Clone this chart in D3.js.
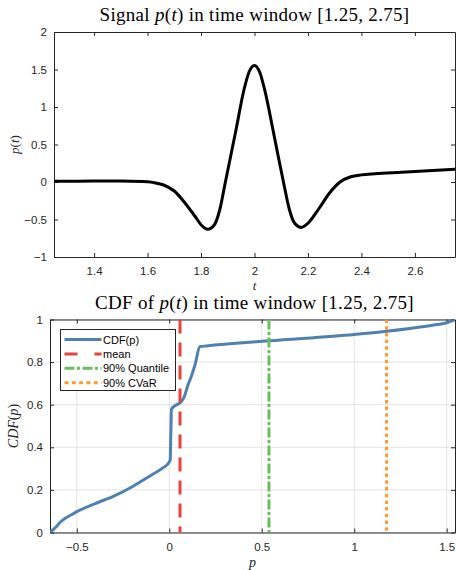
<!DOCTYPE html>
<html>
<head>
<meta charset="utf-8">
<script src="https://cdn.jsdelivr.net/npm/d3@7"></script>
<style>
  body { margin: 0; background: #fff; }
  svg { display: block; }
</style>
</head>
<body>
<div id="chart"></div>
<script>
const width = 456, height = 570;

// signal p(t)
const sigT = [1.25, 1.40, 1.50, 1.58, 1.62, 1.66, 1.70, 1.74, 1.78, 1.80, 1.825, 1.85, 1.87, 1.89, 1.91, 1.93, 1.96, 1.98, 2.00,
              2.02, 2.04, 2.07, 2.09, 2.11, 2.13, 2.15, 2.175, 2.20, 2.24, 2.28, 2.32, 2.36, 2.40, 2.45, 2.55, 2.65, 2.75];
const sigP = [0.01, 0.012, 0.012, 0.008, -0.005, -0.04, -0.12, -0.28, -0.47, -0.57, -0.63, -0.57, -0.37, -0.02, 0.33, 0.68, 1.22, 1.47, 1.555,
              1.46, 1.20, 0.68, 0.32, -0.03, -0.36, -0.55, -0.605, -0.55, -0.36, -0.15, 0.0, 0.07, 0.095, 0.11, 0.13, 0.15, 0.17];

const cdfP = [-0.645, -0.63, -0.61, -0.59, -0.57, -0.53, -0.5, -0.4, -0.3, -0.2, -0.1, -0.04, -0.01, 0.005, 0.008, 0.012,
              0.03, 0.06, 0.08, 0.10, 0.12, 0.14, 0.165, 0.2, 0.54, 1.0, 1.175, 1.3, 1.43, 1.5, 1.545];
const cdfF = [0, 0.012, 0.028, 0.048, 0.062, 0.083, 0.098, 0.136, 0.171, 0.215, 0.268, 0.300, 0.320, 0.340, 0.45, 0.58,
              0.595, 0.61, 0.635, 0.69, 0.735, 0.79, 0.872, 0.876, 0.900, 0.930, 0.945, 0.958, 0.974, 0.985, 1.0];

// reference lines
const refNames = ["mean", "90% Quantile", "90% CVaR"];
const refValues = [0.058, 0.539, 1.175];

const xTicksTop = [1.4, 1.6, 1.8, 2, 2.2, 2.4, 2.6];
const yTicksTop = [-1, -0.5, 0, 0.5, 1, 1.5, 2];
const xTicksBot = [-0.5, 0, 0.5, 1, 1.5];
const yTicksBot = [0, 0.2, 0.4, 0.6, 0.8, 1];

const axisCol = "#262626";
const blue = "#4f81b0", red = "#e8413f", green = "#6abf5c", orange = "#ff9a33";
const refColors = [red, green, orange];
const refDash = ["14,9", "10,2.5,3,2.5", "3.5,3.2"];
const legDash = ["none", "13,17", "10,2.5,3,2.5", "4,3.3"];

const sansFont = "'Liberation Sans', Arial, Helvetica, sans-serif";
const serifFont = "'Liberation Serif', 'Times New Roman', serif";

const svg = d3.select("#chart").append("svg")
  .attr("width", width).attr("height", height)
  .attr("viewBox", [0, 0, width, height]);

const defs = svg.append("defs");

function panel(box, xDom, yDom, xTicks, yTicks, grid, id) {
  const x = d3.scaleLinear().domain(xDom).range([box.left, box.right]);
  const y = d3.scaleLinear().domain(yDom).range([box.bottom, box.top]);

  defs.append("clipPath").attr("id", id)
    .append("rect")
    .attr("x", box.left).attr("y", box.top)
    .attr("width", box.right - box.left).attr("height", box.bottom - box.top);

  if (grid) {
    svg.append("g")
      .selectAll("line").data(xTicks).join("line")
      .attr("x1", d => x(d)).attr("x2", d => x(d))
      .attr("y1", box.top).attr("y2", box.bottom)
      .attr("stroke", "#e3e3e3").attr("stroke-width", 1);
    svg.append("g")
      .selectAll("line").data(yTicks).join("line")
      .attr("x1", box.left).attr("x2", box.right)
      .attr("y1", d => y(d)).attr("y2", d => y(d))
      .attr("stroke", "#e3e3e3").attr("stroke-width", 1);
  }

  // bottom / left axes with inward ticks
  const gx = svg.append("g")
    .attr("transform", `translate(0,${box.bottom})`)
    .call(d3.axisBottom(x).tickValues(xTicks).tickSizeInner(-4).tickSizeOuter(0).tickPadding(10).tickFormat(d3.format("")));
  const gy = svg.append("g")
    .attr("transform", `translate(${box.left},0)`)
    .call(d3.axisLeft(y).tickValues(yTicks).tickSizeInner(-4).tickSizeOuter(0).tickPadding(7).tickFormat(d3.format("")));
  // top / right (box)
  const gt = svg.append("g")
    .attr("transform", `translate(0,${box.top})`)
    .call(d3.axisTop(x).tickValues(xTicks).tickSizeInner(-4).tickSizeOuter(0).tickFormat(""));
  const gr = svg.append("g")
    .attr("transform", `translate(${box.right},0)`)
    .call(d3.axisRight(y).tickValues(yTicks).tickSizeInner(-4).tickSizeOuter(0).tickFormat(""));

  [gx, gy, gt, gr].forEach(g => {
    g.selectAll("path, line").attr("stroke", axisCol).attr("stroke-width", 1);
    g.selectAll("text").attr("fill", axisCol).style("font-family", sansFont).style("font-size", "11.5px");
  });
  return { x, y };
}

// ---- upper panel: the signal
const boxTop = { left: 54, right: 455, top: 32, bottom: 257 };
const s1 = panel(boxTop, [1.25, 2.75], [-1, 2], xTicksTop, yTicksTop, false, "clipTop");

const sigData = sigT.map((t, i) => ({ t, p: sigP[i] }));
svg.append("path")
  .datum(sigData)
  .attr("clip-path", "url(#clipTop)")
  .attr("fill", "none")
  .attr("stroke", "#000")
  .attr("stroke-width", 3)
  .attr("stroke-linejoin", "round")
  .attr("d", d3.line().x(d => s1.x(d.t)).y(d => s1.y(d.p)).curve(d3.curveMonotoneX));

// ---- lower panel: the CDF
const boxBot = { left: 50, right: 455, top: 319.5, bottom: 532.5 };
const s2 = panel(boxBot, [-0.645, 1.545], [0, 1], xTicksBot, yTicksBot, true, "clipBot");

const cdfData = cdfP.map((p, i) => ({ p, f: cdfF[i] }));
svg.append("path")
  .datum(cdfData)
  .attr("clip-path", "url(#clipBot)")
  .attr("fill", "none")
  .attr("stroke", blue)
  .attr("stroke-width", 3)
  .attr("stroke-linejoin", "round")
  .attr("d", d3.line().x(d => s2.x(d.p)).y(d => s2.y(d.f)).curve(d3.curveMonotoneX));

svg.append("g").attr("clip-path", "url(#clipBot)")
  .selectAll("line").data(refValues).join("line")
  .attr("x1", d => s2.x(d)).attr("x2", d => s2.x(d))
  .attr("y1", boxBot.top).attr("y2", boxBot.bottom)
  .attr("stroke", (d, i) => refColors[i])
  .attr("stroke-width", 3)
  .attr("stroke-dasharray", (d, i) => refDash[i]);

// legend
const legNames = ["CDF(p)"].concat(refNames);
const legColors = [blue].concat(refColors);
const leg = svg.append("g");
leg.append("rect")
  .attr("x", 60.5).attr("y", 329.5).attr("width", 115).attr("height", 61)
  .attr("fill", "#fff").attr("stroke", axisCol).attr("stroke-width", 1);
const rows = leg.selectAll("g").data(legNames).join("g")
  .attr("transform", (d, i) => `translate(0,${339.5 + i * 14.4})`);
rows.append("line")
  .attr("x1", 64.5).attr("x2", 101.5)
  .attr("stroke", (d, i) => legColors[i])
  .attr("stroke-width", 3)
  .attr("stroke-dasharray", (d, i) => legDash[i]);
rows.append("text")
  .attr("x", 103).attr("y", 4)
  .attr("fill", "#000")
  .style("font-family", sansFont).style("font-size", "11px")
  .text(d => d);

// titles and axis labels (LaTeX-like serif)
function mathText(sel, parts) {
  parts.forEach(p => {
    sel.append("tspan").attr("font-style", p[1] ? "italic" : "normal").text(p[0]);
  });
}
const t1 = svg.append("text")
  .attr("x", (boxTop.left + boxTop.right) / 2).attr("y", 21)
  .attr("text-anchor", "middle").attr("fill", "#000")
  .style("font-family", serifFont).style("font-size", "19px").style("letter-spacing", "0.3px");
mathText(t1, [["Signal ", 0], ["p", 1], ["(", 0], ["t", 1], [") in time window [1.25, 2.75]", 0]]);

const t2 = svg.append("text")
  .attr("x", (boxBot.left + boxBot.right) / 2 + 2).attr("y", 309)
  .attr("text-anchor", "middle").attr("fill", "#000")
  .style("font-family", serifFont).style("font-size", "19px").style("letter-spacing", "0.3px");
mathText(t2, [["CDF of ", 0], ["p", 1], ["(", 0], ["t", 1], [") in time window [1.25, 2.75]", 0]]);

svg.append("text")
  .attr("x", (boxTop.left + boxTop.right) / 2).attr("y", 290)
  .attr("text-anchor", "middle").attr("fill", axisCol)
  .style("font-family", serifFont).style("font-size", "13px").style("font-style", "italic")
  .text("t");

svg.append("text")
  .attr("x", (boxBot.left + boxBot.right) / 2).attr("y", 567)
  .attr("text-anchor", "middle").attr("fill", axisCol)
  .style("font-family", serifFont).style("font-size", "14px").style("font-style", "italic")
  .text("p");

const yl1 = svg.append("text")
  .attr("transform", `translate(19,${(boxTop.top + boxTop.bottom) / 2}) rotate(-90)`)
  .attr("text-anchor", "middle").attr("fill", axisCol)
  .style("font-family", serifFont).style("font-size", "13px");
mathText(yl1, [["p", 1], ["(", 0], ["t", 1], [")", 0]]);

const yl2 = svg.append("text")
  .attr("transform", `translate(18,${(boxBot.top + boxBot.bottom) / 2}) rotate(-90)`)
  .attr("text-anchor", "middle").attr("fill", axisCol)
  .style("font-family", serifFont).style("font-size", "14px");
mathText(yl2, [["CDF", 1], ["(", 0], ["p", 1], [")", 0]]);
</script>
</body>
</html>
